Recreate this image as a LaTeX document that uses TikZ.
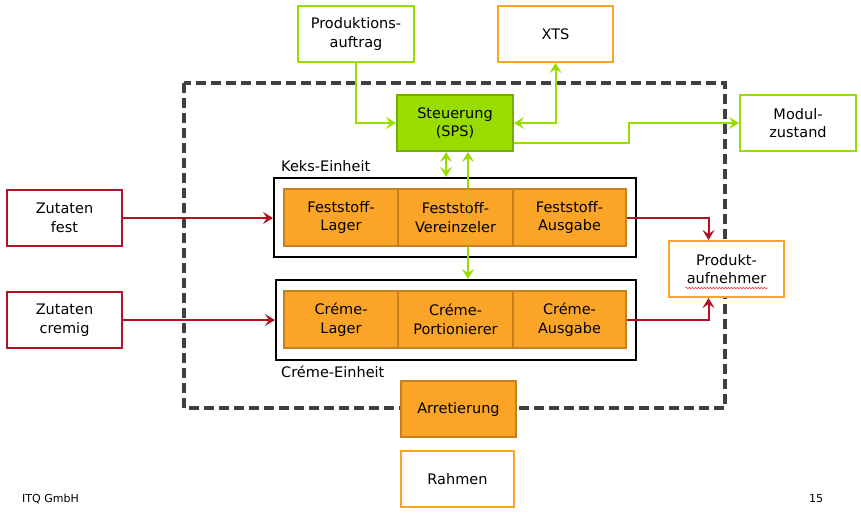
\documentclass[tikz,border=0pt]{standalone}
\usepackage{fontspec}
\setmainfont{DejaVu Sans}
\usetikzlibrary{arrows.meta,decorations.pathmorphing}
\definecolor{itqgreen}{RGB}{153,221,0}
\definecolor{itqgreendark}{RGB}{118,172,0}
\definecolor{itqorange}{RGB}{250,165,40}
\definecolor{itqorangedark}{RGB}{198,128,30}
\definecolor{itqred}{RGB}{176,18,36}
\definecolor{itqgray}{RGB}{64,64,64}
\tikzset{
  box/.style={draw,line width=2pt,minimum width=115pt,minimum height=56pt,inner sep=0pt,align=center,font=\fontsize{14.5}{18.5}\selectfont},
  greenbox/.style={box,draw=itqgreen,fill=white},
  spsbox/.style={box,draw=itqgreendark,fill=itqgreen},
  redbox/.style={box,draw=itqred,fill=white},
  outbox/.style={box,draw=itqorange,fill=white},
  partbox/.style={box,draw=itqorangedark,fill=itqorange,minimum height=57pt},
  unitframe/.style={draw=black,line width=2pt,minimum height=79pt,inner sep=0pt},
  garrow/.style={draw=itqgreen,line width=2pt,-{Stealth[length=10pt,width=12pt,inset=4pt]}},
  gdarrow/.style={draw=itqgreen,line width=2pt,{Stealth[length=10pt,width=12pt,inset=4pt]}-{Stealth[length=10pt,width=12pt,inset=4pt]}},
  rarrow/.style={draw=itqred,line width=2pt,-{Stealth[length=10pt,width=12pt,inset=4pt]}},
  unitlabel/.style={anchor=base west,inner sep=0pt,font=\fontsize{14.5}{18.5}\selectfont},
  footer/.style={anchor=base west,inner sep=0pt,font=\fontsize{11}{13}\selectfont}
}
\begin{document}
\begin{tikzpicture}[x=1pt,y=-1pt]
  \useasboundingbox (0,0) rectangle (861,515);

  % module border
  \draw[itqgray,line width=4pt,dash pattern=on 10pt off 5pt] (184,83) rectangle (725,408);

  % outer blocks
  \node[greenbox,minimum width=116pt] (auftrag) at (356,34) {Produktions-\\auftrag};
  \node[outbox] (xts) at (555.5,34) {XTS};
  \node[spsbox,minimum width=116pt] (sps) at (455,123) {Steuerung\\(SPS)};
  \node[greenbox,minimum width=116pt] (modul) at (798,123) {Modul-\\zustand};
  \node[redbox] (zfest) at (64.5,218) {Zutaten\\fest};
  \node[redbox] (zcremig) at (64.5,320) {Zutaten\\cremig};
  \node[outbox] (aufnehmer) at (726.5,269) {Produkt-\\aufnehmer};
  \node[partbox,minimum height=56pt] (arretierung) at (458.5,409) {Arretierung};
  \node[outbox,minimum width=113pt] (rahmen) at (457.5,479) {Rahmen};

  % units
  \node[unitframe,minimum width=362pt] (keks) at (455,217.5) {};
  \node[unitframe,minimum width=360pt,minimum height=80pt] (creme) at (456,320) {};
  \node[unitlabel] (kekslabel) at (281,171) {Keks-Einheit};
  \node[unitlabel] (cremelabel) at (281,377) {Créme-Einheit};

  % green connectors
  \draw[garrow] (auftrag.south) |- (sps.west);
  \draw[gdarrow] (sps.east) -| (xts.south);
  \draw[garrow] ([yshift=-20pt]sps.east) -- ++(115,0) |- (modul.west);
  \draw[gdarrow] ([xshift=-9pt]sps.south) -- ([xshift=-9pt]sps.south |- keks.north);
  \draw[gdarrow] ([xshift=13pt]sps.south) -- ([xshift=13pt]sps.south |- creme.north);

  % parts
  \node[partbox,minimum width=114pt] (flager) at (341,217.5) {Feststoff-\\Lager};
  \node[partbox] (fvereinz) at (455.5,217.5) {Feststoff-\\Vereinzeler};
  \node[partbox,minimum width=113pt] (fausgabe) at (569.5,217.5) {Feststoff-\\Ausgabe};
  \node[partbox,minimum width=114pt] (clager) at (341,319.5) {Créme-\\Lager};
  \node[partbox] (cportion) at (455.5,319.5) {Créme-\\Portionierer};
  \node[partbox,minimum width=113pt] (causgabe) at (569.5,319.5) {Créme-\\Ausgabe};
  % faint line seen through the box
  \draw[itqgreen,line width=2pt,opacity=0.3] ([xshift=13pt]sps.south |- fvereinz.north) -- ([xshift=13pt]sps.south |- fvereinz.south);

  % red connectors
  \draw[rarrow] (zfest.east) -- (keks.west |- zfest.east);
  \draw[rarrow] (zcremig.east) -- (creme.west |- zcremig.east);
  \draw[rarrow] (fausgabe.east) -| ([xshift=-18pt]aufnehmer.north);
  \draw[rarrow] (causgabe.east) -| ([xshift=-18pt]aufnehmer.south);

  % spell check mark
  \draw[red!80,line width=0.6pt,decorate,decoration={snake,amplitude=0.8pt,segment length=3pt}]
    ([xshift=-41pt,yshift=-19pt]aufnehmer.center) -- ([xshift=41pt,yshift=-19pt]aufnehmer.center);

  % footer
  \node[footer] (firma) at (22,502) {ITQ GmbH};
  \node[footer] (seite) at (809,502) {15};
\end{tikzpicture}
\end{document}
